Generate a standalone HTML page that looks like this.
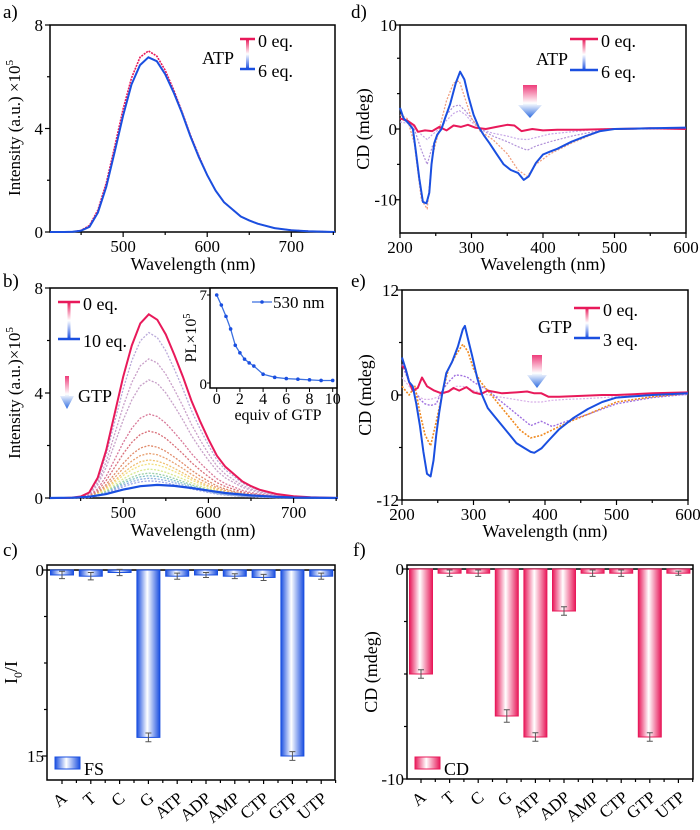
<!DOCTYPE html>
<html><head><meta charset="utf-8"><style>
html,body{margin:0;padding:0;background:#fff}
svg, svg text{font-family:"Liberation Serif","Times New Roman","DejaVu Serif",serif}
</style></head><body>
<svg id="fig" width="700" height="825" viewBox="0 0 700 825" xmlns="http://www.w3.org/2000/svg" font-family="Liberation Serif, Times New Roman, DejaVu Serif, serif">
<defs>
<linearGradient id="gPB" x1="0" y1="0" x2="0" y2="1"><stop offset="0" stop-color="#e8195a"/><stop offset="0.5" stop-color="#fff"/><stop offset="1" stop-color="#1a4fe0"/></linearGradient>
<linearGradient id="gArrow" x1="0" y1="0" x2="0" y2="1"><stop offset="0" stop-color="#ee3c7a"/><stop offset="0.55" stop-color="#fff"/><stop offset="1" stop-color="#2d6be0"/></linearGradient>
<linearGradient id="gBarB" x1="0" y1="0" x2="1" y2="0"><stop offset="0" stop-color="#1a4fe0"/><stop offset="0.45" stop-color="#fff"/><stop offset="1" stop-color="#1a4fe0"/></linearGradient>
<linearGradient id="gBarP" x1="0" y1="0" x2="1" y2="0"><stop offset="0" stop-color="#e8195a"/><stop offset="0.45" stop-color="#fff"/><stop offset="1" stop-color="#e8195a"/></linearGradient>
</defs>
<g id="root"></g>
<g font-size="17" text-anchor="end" fill="#000">
<text transform="translate(68,800) rotate(-40)">A</text>
<text transform="translate(97,800) rotate(-40)">T</text>
<text transform="translate(126,800) rotate(-40)">C</text>
<text transform="translate(155,800) rotate(-40)">G</text>
<text transform="translate(184,800) rotate(-40)">ATP</text>
<text transform="translate(212,800) rotate(-40)">ADP</text>
<text transform="translate(241,800) rotate(-40)">AMP</text>
<text transform="translate(270,800) rotate(-40)">CTP</text>
<text transform="translate(299,800) rotate(-40)">GTP</text>
<text transform="translate(328,800) rotate(-40)">UTP</text>
</g>
<g font-size="17" text-anchor="end" fill="#000">
<text transform="translate(427,799) rotate(-40)">A</text>
<text transform="translate(456,799) rotate(-40)">T</text>
<text transform="translate(485,799) rotate(-40)">C</text>
<text transform="translate(513,799) rotate(-40)">G</text>
<text transform="translate(542,799) rotate(-40)">ATP</text>
<text transform="translate(571,799) rotate(-40)">ADP</text>
<text transform="translate(600,799) rotate(-40)">AMP</text>
<text transform="translate(629,799) rotate(-40)">CTP</text>
<text transform="translate(657,799) rotate(-40)">GTP</text>
<text transform="translate(686,799) rotate(-40)">UTP</text>
</g>
</svg>
<script>
// ---------- data ----------
const aWl   = [413,430,440,450,460,470,480,490,500,510,520,530,540,550,560,570,580,590,600,610,620,640,650,660,680,700,720,752];
const aBlue = [0,0,0.01,0.05,0.2,0.75,1.75,3.1,4.5,5.7,6.45,6.75,6.6,6.1,5.4,4.6,3.7,2.9,2.2,1.6,1.15,0.6,0.45,0.32,0.15,0.07,0.03,0];
const aRed  = [0,0,0.01,0.06,0.25,0.85,1.9,3.3,4.75,5.95,6.75,7.0,6.8,6.25,5.5,4.65,3.75,2.95,2.2,1.6,1.15,0.6,0.45,0.32,0.15,0.07,0.03,0];
const bProfile = [0,0,0.002,0.008,0.03,0.11,0.26,0.46,0.66,0.83,0.95,1.0,0.97,0.89,0.78,0.66,0.53,0.42,0.32,0.23,0.17,0.09,0.065,0.045,0.022,0.01,0.004,0];
const bPeaks = [6.3,5.3,4.5,3.2,2.55,2.0,1.7,1.45,1.3,1.1,0.95,0.85,0.75,0.65];
const bPeakColors = ["#b9a9d9","#c9a0c9","#c7a0c8","#d97a9a","#d9707a","#e08a6a","#e8a070","#f0c070","#f2e080","#d8e890","#9cd0a8","#80c0c8","#90b0e0","#a0a8e8"];
const bRedPeak = 7.0;
const bBlueWl = [413,440,460,480,500,520,540,560,580,600,620,650,680,700,752];
const bBlue   = [0,0.01,0.05,0.15,0.32,0.45,0.5,0.46,0.38,0.28,0.19,0.1,0.04,0.02,0];
const insEq = [0,0.4,0.8,1.2,1.6,2.0,2.4,2.8,3.2,4,5,6,7,8,9,10];
const insPL = [7.0,6.2,5.3,4.3,3.0,2.4,1.9,1.6,1.35,0.7,0.45,0.35,0.3,0.25,0.2,0.2];
const dWl    = [200,205,212,218,222,227,232,237,241,244,248,252,258,263,270,278,284,290,296,303,310,318,325,335,345,355,365,373,380,390,400,410,420,440,460,480,500,550,600];
const dBlue  = [3.0,1.5,0.8,0,-3,-7,-10.3,-10.5,-9,-5,-2,-0.8,0,1.5,3.5,6.5,8.1,7,4.5,2,0.3,-1,-2,-3.5,-5,-5.8,-6.2,-7.2,-6.7,-4.8,-3.6,-3.2,-2.8,-1.8,-1.0,-0.3,0,0.1,0.2];
const dRedWl = [200,210,220,225,235,245,255,265,275,285,295,305,320,335,350,360,370,385,400,420,450,500,550,600];
const dRed   = [1.5,1.2,0.5,-0.4,-0.2,-0.3,0.3,-0.2,0.5,0.3,0.6,0.2,0,0.3,0.6,0.5,-0.3,0,-0.2,-0.1,-0.1,0,0.1,0];
const dMidWl = [200,210,220,230,238,245,255,265,275,283,292,300,312,330,350,365,378,390,410,440,480,500,600];
const dOrange= [2,1.5,-2,-10,-11.3,-4,0,4,6.5,6.8,4,1.5,-0.3,-1.5,-3.5,-5.8,-6.7,-5,-3.5,-2,-0.3,0,0.2];
const dPurple= [1.5,1,0,-3,-5,-2.5,-0.5,2,3.2,3.4,2.5,1.5,0,-1,-1.8,-2.5,-3,-2.4,-1.8,-1,-0.2,0,0.1];
const dViolet= [1,0.8,0.3,-0.8,-1.5,-0.8,0,1.2,2.2,2.6,2,1,0,-0.6,-1,-1.4,-1.5,-1.2,-0.7,-0.4,0,0,0];
const eWl    = [200,205,210,215,220,225,230,235,240,244,248,252,256,262,270,278,285,288,292,298,305,312,320,330,340,350,360,370,380,385,395,405,420,440,460,480,500,550,600];
const eBlue  = [4.3,3,1.5,1,-1,-3.5,-6.5,-9,-9.3,-7.5,-4.5,-2,0,2.5,3.8,5.5,7.5,7.9,6.5,4.5,2,0,-1.5,-2.5,-3.5,-4.5,-5.5,-6,-6.5,-6.6,-6.1,-5.2,-3.9,-2.6,-1.6,-0.8,-0.3,0,0.2];
const eRedWl = [200,205,210,215,222,228,235,245,255,265,272,280,290,300,310,320,340,360,375,385,395,405,420,450,480,500,550,600];
const eRed   = [3.3,3.0,1.5,0.5,0.8,2.0,1,0.5,0.2,0.4,0.8,0.5,0.9,0.3,0.1,0.5,0.2,0.3,0.4,0.2,0.2,-0.2,-0.2,-0.1,0,0,0.2,0.3];
const eMidWl = [200,210,218,225,232,240,248,256,265,275,285,292,300,310,320,335,350,365,380,395,410,430,460,500,550,600];
const eOrange= [1,0,1,-2,-4.5,-5.8,-3,0,3,4.5,5.8,5,3,1.5,0.5,-1,-2.5,-4,-4.9,-4.6,-4,-3.2,-2.2,-0.8,-0.2,0.2];
const ePurple= [3.5,1.5,0.5,-0.5,-1,-1.2,-1,0.5,1.5,2.3,2.2,2,1.5,1,0.6,-0.5,-1.5,-2.5,-3.5,-3.0,-3.6,-3.0,-2.2,-1,-0.3,0.1];
const eViolet= [2,1,0.3,-0.3,-0.5,-0.5,-0.3,0,0.5,1,1,0.8,0.5,0.3,0,-0.2,-0.4,-0.6,-0.8,-0.8,-0.6,-0.5,-0.4,-0.2,0,0];
const cats  = ["A","T","C","G","ATP","ADP","AMP","CTP","GTP","UTP"];
const fsVals= [0.4,0.5,0.2,13.5,0.5,0.4,0.5,0.6,15.0,0.5];
const fsErr = [0.3,0.3,0.25,0.35,0.25,0.2,0.2,0.25,0.35,0.25];
const cdVals= [-5.0,-0.2,-0.2,-7.0,-8.0,-2.0,-0.2,-0.2,-8.0,-0.2];
const cdErr = [0.2,0.15,0.15,0.3,0.2,0.2,0.15,0.15,0.2,0.1];
const aXTicks=[500,600,700], aYTicks=[0,4,8];
const dXTicks=[200,300,400,500,600];
const cYTickLabels=["0","15"], fYTickLabels=["0","-10"];

// ---------- helpers ----------
const NS="http://www.w3.org/2000/svg";
const FONT='"Liberation Serif","Times New Roman","DejaVu Serif",serif';
const root=document.getElementById('root');
function el(tag,attrs,parent,text){const e=document.createElementNS(NS,tag);for(const k in attrs)e.setAttribute(k,attrs[k]);if(text!==undefined)e.textContent=text;(parent||root).appendChild(e);return e;}
function lin(d0,d1,r0,r1){return v=>r0+(v-d0)/(d1-d0)*(r1-r0);}
function pathD(xs,ys,X,Y){return xs.map((x,i)=>(i?'L':'M')+X(x).toFixed(1)+','+Y(ys[i]).toFixed(1)).join('');}
function frame(g,x0,y0,x1,y1){el('rect',{x:x0,y:y0,width:x1-x0,height:y1-y0,fill:'none',stroke:'#000','stroke-width':1.5},g);}
function txt(g,x,y,s,size,anchor,extra){const t=el('text',Object.assign({x:x,y:y,'font-size':size,'text-anchor':anchor||'start',fill:'#000','font-family':'Liberation Serif, Times New Roman, DejaVu Serif, serif'},extra||{}),g,s);t.style.fontFamily=FONT;return t;}
function panelLabel(x,y,s){const t=txt(root,x,y,s,19);}
function xTicks(g,X,y1,majors,minorStep,d0,d1){
  for(let v=Math.ceil(d0/minorStep)*minorStep;v<=d1;v+=minorStep){const maj=majors.includes(v);el('line',{x1:X(v),x2:X(v),y1:y1,y2:y1+(maj?5:3),stroke:'#000','stroke-width':1.2},g);}
  majors.forEach(v=>txt(g,X(v),y1+20,String(v),17,'middle'));
}
function gradLegend(g,x0,x1,yTop,yBot,label,lx,ly,t0,t1){
  el('rect',{x:(x0+x1)/2-1.5,y:yTop,width:3,height:yBot-yTop,fill:'url(#gPB)'},g);
  el('line',{x1:x0,x2:x1,y1:yTop,y2:yTop,stroke:'#e8195a','stroke-width':2.5},g);
  el('line',{x1:x0,x2:x1,y1:yBot,y2:yBot,stroke:'#1a4fe0','stroke-width':2.5},g);
  if(label)txt(g,lx,ly,label,18);
  txt(g,x1+3,yTop+8,t0,18);txt(g,x1+3,yBot+8,t1,18);
}
function arrow(g,x0,x1,yTop,yMid,yTip){
  el('path',{d:`M${x0+3},${yTop}H${x1-3}V${yMid}H${x1+2}L${(x0+x1)/2},${yTip}L${x0-2},${yMid}H${x0+3}Z`,fill:'url(#gArrow)'},g);
}

// ---------- panel a ----------
(function(){
  const g=el('g',{});
  
  
  const X=lin(413,752,50,335),Y=lin(0,8,232,25);
  frame(g,50,25,335,232);
  const r=el('path',{d:pathD(aWl,aRed,X,Y),fill:'none',stroke:'#e8195a','stroke-width':1.6,'stroke-dasharray':'2 1'},g);
  
  const b=el('path',{d:pathD(aWl,aBlue,X,Y),fill:'none',stroke:'#1a4fe0','stroke-width':2},g);
  
  xTicks(g,X,232,aXTicks,50,420,750);
  [0,2,4,6,8].forEach(v=>el('line',{x1:50,x2:(v%4?47:45),y1:Y(v),y2:Y(v),stroke:'#000','stroke-width':1.2},g));
  aYTicks.forEach(v=>txt(g,43,Y(v)+6,String(v),17,'end'));
  const yg=el('g',{transform:'translate(20,128) rotate(-90)'},g);
  const yt=txt(yg,0,0,'',17,'middle');
  yt.innerHTML='Intensity (a.u.) ×10<tspan font-size="11" dy="-7">5</tspan>';
  
  const xt=txt(g,193,270,'Wavelength (nm)',18,'middle');
  
  const lg=el('g',{},g);
  gradLegend(lg,240,255,39,69,'ATP',202,64,'0 eq.','6 eq.');
})();
panelLabel(3,18,'a)');

// ---------- panel b ----------
(function(){
  const g=el('g',{});
  
  
  const X=lin(414,751,50,337),Y=lin(0,8,498,288);
  frame(g,50,288,337,498);
  bPeaks.forEach((p,i)=>{
    const ys=bProfile.map(v=>v*p);
    const s=el('path',{d:pathD(aWl,ys,X,Y),fill:'none',stroke:bPeakColors[i],'stroke-width':1.3,'stroke-dasharray':'2 1.5'},g);
    
  });
  const r=el('path',{d:pathD(aWl,bProfile.map(v=>v*bRedPeak),X,Y),fill:'none',stroke:'#e8195a','stroke-width':2},g);
  
  const b=el('path',{d:pathD(bBlueWl,bBlue,X,Y),fill:'none',stroke:'#1a4fe0','stroke-width':2.2},g);
  
  xTicks(g,X,498,aXTicks,50,420,750);
  [0,2,4,6,8].forEach(v=>el('line',{x1:50,x2:(v%4?47:45),y1:Y(v),y2:Y(v),stroke:'#000','stroke-width':1.2},g));
  aYTicks.forEach(v=>txt(g,43,Y(v)+6,String(v),17,'end'));
  const yg=el('g',{transform:'translate(20,393) rotate(-90)'},g);
  const yt=txt(yg,0,0,'',17,'middle');
  yt.innerHTML='Intensity (a.u.)×10<tspan font-size="11" dy="-7">5</tspan>';
  
  const xt=txt(g,193,536,'Wavelength (nm)',18,'middle');
  
  const lg=el('g',{},g);
  gradLegend(lg,58,80,302,339,'',0,0,'0 eq.','10 eq.');
  arrow(lg,62,72,376,396,409);
  txt(lg,78,402,'GTP',18);
  const ig=el('g',{},g);
  el('rect',{x:210,y:288,width:127,height:100,fill:'#fff'},ig);
  frame(ig,210,288,337,388);
  const IX=lin(0,10,216.7,332.7),IY=lin(0,7,383,295);
  el('path',{d:pathD(insEq,insPL,IX,IY),fill:'none',stroke:'#3a6fe0','stroke-width':1.3},ig);
  insEq.forEach((e,i)=>{const c=el('circle',{cx:IX(e),cy:IY(insPL[i]),r:1.8,fill:'#1a4fe0'},ig);
    });
  [0,2,4,6,8,10].forEach(v=>{el('line',{x1:IX(v),x2:IX(v),y1:388,y2:392,stroke:'#000'},ig);txt(ig,IX(v),404,String(v),16,'middle');});
  [0,7].forEach(v=>{el('line',{x1:210,x2:207,y1:IY(v),y2:IY(v),stroke:'#000'},ig);});
  txt(ig,207,300,'7',15,'end');txt(ig,207,389,'0',15,'end');
  const ing=el('g',{transform:'translate(196,338) rotate(-90)'},ig);
  const it=txt(ing,0,0,'',16,'middle');
  it.innerHTML='PL×10<tspan font-size="10" dy="-6">5</tspan>';
  txt(ig,278,420,'equiv of GTP',16,'middle');
  el('line',{x1:252,x2:272,y1:302,y2:302,stroke:'#3a6fe0','stroke-width':1.3},ig);
  el('circle',{cx:262,cy:302,r:1.8,fill:'#1a4fe0'},ig);
  txt(ig,273,308,'530 nm',17);
})();
panelLabel(3,287,'b)');

// ---------- CD line panels ----------
function cdPanel(name,x0,x1,y0,y1,yDom,tickVals,tickLabels,midTicks,series,legend){
  const g=el('g',{});
  
  
  const X=lin(200,600,x0,x1),Y=lin(yDom[0],yDom[1],y1,y0);
  frame(g,x0,y0,x1,y1);
  series.forEach(s=>{
    const p=el('path',{d:pathD(s.x,s.y,X,Y),fill:'none',stroke:s.c,'stroke-width':s.w,'stroke-dasharray':s.dash||'none','stroke-linejoin':'round'},g);
    
  });
  xTicks(g,X,y1,dXTicks,50,200,600);
  midTicks.forEach(v=>el('line',{x1:x0,x2:x0-3,y1:Y(v),y2:Y(v),stroke:'#000','stroke-width':1.2},g));
  tickVals.forEach((v,i)=>{el('line',{x1:x0,x2:x0-5,y1:Y(v),y2:Y(v),stroke:'#000','stroke-width':1.2},g);txt(g,x0-3,Y(v)+6,tickLabels[i],17,'end');});
  const yg=el('g',{transform:`translate(${x0-31},${(y0+y1)/2}) rotate(-90)`},g);
  const yt=txt(yg,0,0,'CD (mdeg)',18,'middle');
  
  const xt=txt(g,(x0+x1)/2,y1+37,'Wavelength (nm)',18,'middle');
  
  const lg=el('g',{},g);
  gradLegend(lg,legend.cx0,legend.cx1,legend.top,legend.bot,legend.label,legend.lx,legend.ly,'0 eq.',legend.end);
  arrow(lg,legend.ax0,legend.ax1,legend.at,legend.am,legend.tip);
}
cdPanel('panel-d-cd-atp',400,686,25,233,[-14.7,14.7],[14.7,0,-10],["10","0","-10"],[10,-5,5],
 [{x:dMidWl,y:dViolet,c:'#c8a8e8',w:1.2,dash:'2 1.5',n:'series-d-step-1'},
  {x:dMidWl,y:dPurple,c:'#b090d8',w:1.2,dash:'2 1.5',n:'series-d-step-2'},
  {x:dMidWl,y:dOrange,c:'#f0a080',w:1.3,dash:'2 1.5',n:'series-d-step-3'},
  {x:dRedWl,y:dRed,c:'#e8195a',w:2,n:'series-d-0eq'},
  {x:dWl,y:dBlue,c:'#1a4fe0',w:2,n:'series-d-6eq'}],
 {cx0:570,cx1:598,top:39,bot:70,label:'ATP',lx:536,ly:65,end:'6 eq.',ax0:520,ax1:540,at:85,am:105,tip:118});
panelLabel(351,18,'d)');
cdPanel('panel-e-cd-gtp',402,688,290,500,[-12,12],[12,0,-12],["12","0","-12"],[6,-6],
 [{x:eMidWl,y:eViolet,c:'#d8b0e8',w:1.2,dash:'2 1.5',n:'series-e-step-1'},
  {x:eMidWl,y:ePurple,c:'#a070e0',w:1.4,dash:'2 1.5',n:'series-e-step-2'},
  {x:eMidWl,y:eOrange,c:'#f08a20',w:1.6,dash:'2 1.5',n:'series-e-step-3'},
  {x:eRedWl,y:eRed,c:'#e8195a',w:2,n:'series-e-0eq'},
  {x:eWl,y:eBlue,c:'#1a4fe0',w:2,n:'series-e-3eq'}],
 {cx0:574,cx1:600,top:308,bot:338,label:'GTP',lx:538,ly:333,end:'3 eq.',ax0:529,ax1:545,at:355,am:375,tip:388});
panelLabel(351,287,'e)');

// ---------- bar panels ----------
function barPanel(name,x0,x1,y0,y1,zeroY,Y,vals,errs,fill,tickVals,tickLabels,minor,ytitle,legendText,legendFill,cx0){
  const g=el('g',{});
  
  
  frame(g,x0,y0,x1,y1);
  el('line',{x1:x0,x2:x1,y1:zeroY,y2:zeroY,stroke:'#000','stroke-width':1.5},g);
  const step=(x1-x0)/10.0;
  vals.forEach((v,i)=>{
    const cx=cx0+i*step, top=Y(0), bot=Y(v);
    const r=el('rect',{x:cx-11.5,y:Math.min(top,bot),width:23,height:Math.abs(bot-top),fill:fill,stroke:fill==='url(#gBarB)'?'#1a4fe0':'#e8195a','stroke-width':1},g);
    
    const eTop=Y(v+ (v>=0?-errs[i]:errs[i])), eBot=Y(v+(v>=0?errs[i]:-errs[i]));
    const eb=el('path',{d:`M${cx},${eTop}V${eBot}M${cx-3},${eTop}H${cx+3}M${cx-3},${eBot}H${cx+3}`,stroke:'#555','stroke-width':1,fill:'none'},g);
    
    el('line',{x1:cx,x2:cx,y1:y1,y2:y1+4,stroke:'#000','stroke-width':1.2},g);
    el('line',{x1:cx+step/2,x2:cx+step/2,y1:y1,y2:y1+3,stroke:'#000','stroke-width':1.2},g);
  });
  minor.forEach(v=>el('line',{x1:x0,x2:x0-3,y1:Y(v),y2:Y(v),stroke:'#000','stroke-width':1.2},g));
  tickVals.forEach((v,i)=>{el('line',{x1:x0,x2:x0-5,y1:Y(v),y2:Y(v),stroke:'#000','stroke-width':1.2},g);txt(g,x0-3,Y(v)+6,tickLabels[i],17,'end');});
  const yg=el('g',{transform:`translate(${x0-30},${(y0+y1)/2}) rotate(-90)`},g);
  const yt=txt(yg,0,0,'',18,'middle');
  yt.innerHTML=ytitle;
  
  const lg=el('g',{},g);
  el('rect',{x:x0+8,y:757,width:25,height:12,fill:legendFill,stroke:legendFill==='url(#gBarB)'?'#1a4fe0':'#e8195a','stroke-width':1},lg);
  txt(lg,x0+37,775,legendText,18);
}
barPanel('panel-c-fs-bars',47,335,565,780,570,lin(0,15,570,756),fsVals,fsErr,'url(#gBarB)',[0,15],cYTickLabels,[3.75,7.5,11.25],'I<tspan font-size="12" dy="5">0</tspan><tspan dy="-5">/I</tspan>','FS','url(#gBarB)',62);
panelLabel(3,556,'c)');
barPanel('panel-f-cd-bars',407,693,565,779,569,lin(0,-10,569,779),cdVals,cdErr,'url(#gBarP)',[0,-10],fYTickLabels,[-2.5,-5,-7.5],'CD (mdeg)','CD','url(#gBarP)',421);
panelLabel(353,556,'f)');
</script>
</body></html>
